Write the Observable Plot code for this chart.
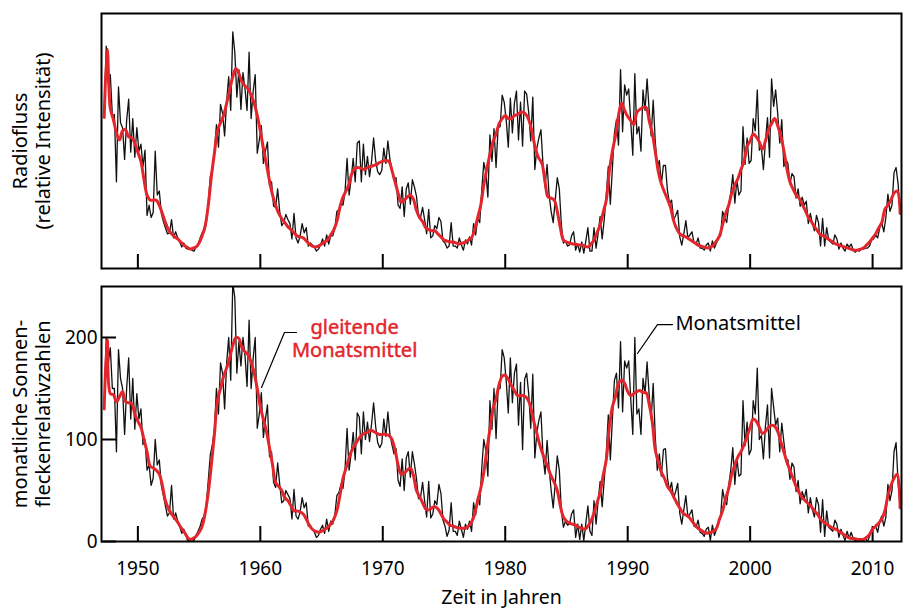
<!DOCTYPE html>
<html><head><meta charset="utf-8">
<script src="https://cdn.jsdelivr.net/npm/d3@7"></script>
<script src="https://cdn.jsdelivr.net/npm/@observablehq/plot@0.6"></script>
<style>
html,body{margin:0;padding:0;background:#fff;}
#chart{position:relative;width:906px;height:612px;font-family:"Noto Sans",sans-serif;}
#chart svg{position:absolute;left:0;display:block;}
</style></head><body><div id="chart"></div>
<script>
// time grid of the series
const monthlyStart = 1947.25, monthlyStep = 1 / 6;   // monthly means (sampled every 2 months)
const smoothStart = 1947.25, smoothStep = 0.25;      // running (smoothed) means

// Sunspot numbers, monthly means
const spotsMonthly = [
  130, 200, 175, 190, 150,            // 1947
  150, 88, 188, 160, 150, 105,        // 1948
  150, 180, 120, 160, 110, 145,       // 1949
  120, 130, 95, 100, 70, 75,          // 1950
  55, 62, 100, 75, 80, 55,            // 1951
  45, 35, 25, 28, 55, 22,             // 1952
  28, 20, 15, 8, 12, 6,               // 1953
  0, 3, 2, 1, 6, 10,                  // 1954
  15, 22, 25, 35, 60, 85,             // 1955
  95, 110, 150, 125, 175, 165,        // 1956
  130, 175, 200, 158, 254, 239,       // 1957
  165, 196, 172, 200, 182, 152,       // 1958
  217, 150, 180, 200, 111, 125,       // 1959
  146, 102, 120, 134, 83, 88,         // 1960
  58, 53, 77, 56, 38, 40,             // 1961
  50, 46, 42, 22, 51, 25,             // 1962
  22, 29, 43, 33, 38, 15,             // 1963
  16, 12, 9, 4, 6, 12,                // 1964
  16, 8, 22, 10, 20, 17,              // 1965
  26, 45, 48, 56, 52, 70,             // 1966
  111, 70, 86, 107, 80, 126,          // 1967
  122, 86, 127, 100, 117, 98,         // 1968
  115, 136, 113, 97, 92, 96,          // 1969
  120, 103, 127, 105, 95, 86,         // 1970
  91, 60, 54, 81, 50, 82,             // 1971
  88, 63, 88, 76, 62, 42,             // 1972
  43, 58, 40, 24, 59, 23,             // 1973
  27, 40, 36, 56, 47, 21,             // 1974
  15, 5, 11, 38, 10, 10,              // 1975
  6, 20, 12, 4, 17, 12,               // 1976
  20, 10, 38, 26, 44, 36,             // 1977
  72, 100, 89, 64, 138, 110,          // 1978
  150, 101, 149, 150, 188, 180,       // 1979
  157, 126, 180, 136, 165, 174,       // 1980
  114, 156, 90, 159, 165, 145,        // 1981
  111, 164, 82, 107, 119, 127,        // 1982
  84, 66, 99, 72, 50, 33,             // 1983
  57, 84, 70, 30, 14, 20,             // 1984
  16, 17, 27, 31, 4, 17,              // 1985
  2, 17, 1, 18, 35, 10,               // 1986
  6, 40, 17, 39, 59, 34,              // 1987
  60, 86, 124, 80, 120, 158,          // 1988
  165, 131, 196, 127, 177, 170,       // 1989
  177, 140, 105, 200, 125, 130,       // 1990
  105, 160, 145, 176, 144, 120,       // 1991
  155, 103, 70, 86, 64, 90,           // 1992
  91, 62, 50, 58, 42, 49,             // 1993
  57, 28, 17, 31, 45, 24,             // 1994
  27, 31, 15, 14, 21, 9,              // 1995
  8, 5, 12, 14, 1, 16,                // 1996
  6, 12, 18, 24, 51, 40,              // 1997
  36, 55, 70, 92, 56, 82,             // 1998
  64, 66, 138, 94, 117, 85,           // 1999
  90, 138, 125, 170, 100, 104,        // 2000
  81, 113, 134, 82, 150, 132,         // 2001
  114, 121, 88, 116, 98, 81,          // 2002
  80, 61, 77, 73, 49, 60,             // 2003
  37, 49, 42, 51, 28, 43,             // 2004
  31, 24, 43, 36, 9, 41,              // 2005
  5, 30, 14, 12, 10, 21,              // 2006
  17, 4, 12, 6, 1, 10,                // 2007
  3, 9, 3, 0.5, 3, 1,                 // 2008
  1.5, 1, 3, 0, 5, 11,                // 2009
  13, 15, 9, 20, 25, 15,              // 2010
  24, 56, 40, 50, 88, 97,             // 2011
  58, 33                              // 2012
];

// Sunspot numbers, running mean
const spotsSmoothed = [
  130, 198, 145,        // 1947
  144, 137, 142, 147,   // 1948
  137, 136, 135, 125,   // 1949
  118, 112, 100, 88,    // 1950
  74, 72, 70, 66,       // 1951
  55, 40, 32, 27,       // 1952
  23, 19, 14, 10,       // 1953
  5, 2, 3, 5,           // 1954
  9, 15, 28, 48,        // 1955
  75, 105, 138, 150,    // 1956
  162, 170, 180, 192,   // 1957
  200, 199, 190, 186,   // 1958
  183, 176, 165, 150,   // 1959
  132, 120, 108, 92,    // 1960
  75, 58, 54, 50,       // 1961
  43, 40, 35, 30,       // 1962
  30, 29, 27, 22,       // 1963
  16, 12, 10, 9,        // 1964
  10, 12, 14, 17,       // 1965
  22, 30, 45, 62,       // 1966
  72, 82, 90, 95,       // 1967
  100, 104, 106, 107,   // 1968
  109, 108, 106, 105,   // 1969
  105, 105, 104, 100,   // 1970
  90, 75, 66, 67,       // 1971
  70, 72, 65, 50,       // 1972
  44, 38, 32, 31,       // 1973
  33, 34, 32, 27,       // 1974
  22, 19, 16, 15,       // 1975
  14, 13, 13, 13,       // 1976
  15, 19, 27, 40,       // 1977
  52, 68, 90, 110,      // 1978
  130, 140, 154, 162,   // 1979
  163, 159, 153, 148,   // 1980
  143, 143, 143, 141,   // 1981
  135, 122, 110, 98,    // 1982
  88, 80, 72, 64,       // 1983
  58, 50, 35, 24,       // 1984
  20, 18, 17, 16,       // 1985
  14, 13, 12, 15,       // 1986
  20, 28, 38, 48,       // 1987
  65, 80, 112, 132,     // 1988
  142, 155, 158, 155,   // 1989
  147, 143, 145, 147,   // 1990
  148, 146, 146, 135,   // 1991
  118, 90, 78, 68,      // 1992
  62, 54, 50, 44,       // 1993
  38, 33, 28, 26,       // 1994
  24, 20, 16, 13,       // 1995
  11, 9, 8, 9,          // 1996
  10, 13, 22, 30,       // 1997
  42, 52, 66, 75,       // 1998
  83, 88, 95, 103,      // 1999
  112, 120, 118, 112,   // 2000
  106, 108, 112, 114,   // 2001
  113, 108, 98, 88,     // 2002
  78, 70, 62, 54,       // 2003
  48, 43, 40, 37,       // 2004
  34, 30, 27, 22,       // 2005
  19, 17, 15, 13,       // 2006
  12, 10, 8, 6,         // 2007
  4, 3, 3, 2,           // 2008
  2, 2, 4, 7,           // 2009
  12, 15, 18, 22,       // 2010
  30, 45, 55, 62,       // 2011
  66, 33                // 2012
];

// Radio flux (relative intensity), monthly means
const fluxMonthly = [
  198, 268, 232, 240, 200,            // 1947
  201, 135, 228, 193, 188, 157,       // 1948
  195, 216, 164, 197, 159, 188,       // 1949
  165, 172, 150, 166, 102, 112,       // 1950
  100, 105, 165, 122, 126, 104,       // 1951
  96, 90, 84, 85, 98, 80,             // 1952
  86, 80, 76, 71, 75, 70,             // 1953
  69, 70, 68, 67, 71, 73,             // 1954
  80, 85, 86, 94, 115, 140,           // 1955
  148, 165, 191, 169, 211, 202,       // 1956
  180, 214, 238, 205, 282, 262,       // 1957
  218, 245, 206, 242, 226, 205,       // 1958
  262, 197, 224, 240, 163, 176,       // 1959
  190, 153, 165, 174, 131, 135,       // 1960
  111, 110, 128, 106, 92, 95,         // 1961
  103, 98, 94, 79, 104, 80,           // 1962
  75, 82, 94, 85, 90, 72,             // 1963
  75, 73, 71, 67, 69, 73,             // 1964
  79, 72, 83, 74, 82, 82,             // 1965
  89, 106, 108, 115, 112, 125,        // 1966
  158, 122, 138, 158, 135, 173,       // 1967
  175, 135, 172, 142, 160, 140,       // 1968
  155, 178, 156, 145, 142, 146,       // 1969
  168, 153, 175, 157, 147, 137,       // 1970
  139, 112, 109, 130, 101, 128,       // 1971
  134, 113, 137, 130, 121, 102,       // 1972
  100, 110, 98, 84, 108, 80,          // 1973
  82, 92, 89, 100, 96, 77,            // 1974
  75, 70, 72, 95, 72, 72,             // 1975
  70, 80, 73, 68, 78, 74,             // 1976
  81, 73, 94, 83, 99, 95,             // 1977
  127, 154, 144, 120, 181, 155,       // 1978
  187, 149, 188, 189, 220, 213,       // 1979
  195, 169, 217, 183, 212, 224,       // 1980
  176, 213, 170, 224, 221, 203,       // 1981
  175, 218, 147, 168, 178, 186,       // 1982
  152, 130, 152, 122, 106, 95,        // 1983
  117, 139, 128, 93, 75, 77,          // 1984
  72, 73, 82, 86, 68, 74,             // 1985
  66, 76, 65, 77, 90, 67,             // 1986
  67, 90, 70, 84, 101, 79,            // 1987
  98, 122, 150, 113, 148, 183,        // 1988
  196, 171, 245, 184, 230, 220,       // 1989
  226, 194, 161, 241, 182, 189,       // 1990
  165, 225, 205, 236, 206, 180,       // 1991
  215, 175, 149, 156, 133, 151,       // 1992
  151, 126, 114, 117, 98, 102,        // 1993
  107, 81, 73, 84, 97, 80,            // 1994
  83, 86, 75, 74, 80, 70,             // 1995
  70, 68, 73, 75, 67, 77,             // 1996
  70, 75, 80, 82, 106, 100,           // 1997
  95, 112, 124, 142, 114, 137,        // 1998
  122, 126, 189, 152, 178, 153,       // 1999
  156, 197, 185, 225, 166, 169,       // 2000
  147, 175, 198, 159, 236, 209,       // 2001
  225, 202, 173, 196, 150, 157,       // 2002
  153, 133, 143, 140, 119, 128,       // 2003
  111, 120, 112, 116, 94, 104,        // 2004
  94, 87, 102, 95, 72, 99,            // 2005
  72, 90, 78, 76, 74, 83,             // 2006
  79, 69, 75, 70, 67, 74,             // 2007
  71, 74, 68, 66, 68, 67,             // 2008
  69, 69, 70, 70, 72, 78,             // 2009
  79, 83, 80, 90, 95, 86,             // 2010
  100, 123, 106, 112, 144, 149,       // 2011
  133, 104                            // 2012
];

// Radio flux, running mean
const fluxSmoothed = [
  198, 265, 207,        // 1947
  196, 183, 176, 185,   // 1948
  186, 179, 178, 173,   // 1949
  164, 155, 137, 122,   // 1950
  117, 117, 117, 112,   // 1951
  104, 95, 88, 84,      // 1952
  81, 79, 76, 73,       // 1953
  71, 69, 70, 71,       // 1954
  75, 82, 92, 112,      // 1955
  140, 163, 185, 193,   // 1956
  200, 212, 225, 238,   // 1957
  246, 241, 233, 229,   // 1958
  226, 220, 212, 200,   // 1959
  185, 168, 152, 136,   // 1960
  122, 112, 104, 99,    // 1961
  95, 91, 88, 85,       // 1962
  82, 81, 80, 77,       // 1963
  74, 72, 71, 72,       // 1964
  74, 76, 78, 83,       // 1965
  88, 96, 110, 120,     // 1966
  126, 133, 144, 148,   // 1967
  149, 148, 147, 149,   // 1968
  150, 151, 152, 154,   // 1969
  155, 156, 155, 146,   // 1970
  135, 124, 115, 117,   // 1971
  120, 122, 118, 107,   // 1972
  100, 96, 90, 88,      // 1973
  87, 87, 84, 81,       // 1974
  78, 77, 76, 76,       // 1975
  75, 74, 75, 76,       // 1976
  78, 80, 88, 100,      // 1977
  112, 132, 148, 162,   // 1978
  174, 182, 192, 197,   // 1979
  200, 197, 197, 200,   // 1980
  201, 203, 203, 200,   // 1981
  193, 180, 166, 158,   // 1982
  153, 135, 120, 119,   // 1983
  117, 106, 90, 78,     // 1984
  76, 75, 74, 74,       // 1985
  73, 73, 72, 71,       // 1986
  74, 78, 85, 93,       // 1987
  105, 117, 145, 165,   // 1988
  180, 200, 212, 205,   // 1989
  199, 195, 191, 203,   // 1990
  206, 208, 208, 195,   // 1991
  183, 165, 145, 133,   // 1992
  125, 118, 110, 97,    // 1993
  89, 84, 82, 81,       // 1994
  79, 77, 75, 73,       // 1995
  72, 71, 70, 71,       // 1996
  73, 77, 82, 93,       // 1997
  104, 112, 124, 132,   // 1998
  138, 147, 155, 170,   // 1999
  175, 182, 179, 174,   // 2000
  167, 175, 186, 192,   // 2001
  197, 190, 180, 166,   // 2002
  148, 135, 128, 122,   // 2003
  119, 113, 107, 100,   // 2004
  96, 91, 87, 83,       // 2005
  82, 80, 78, 76,       // 2006
  74, 73, 72, 71,       // 2007
  70, 69, 68, 68,       // 2008
  69, 70, 73, 76,       // 2009
  80, 84, 90, 95,       // 2010
  108, 112, 117, 124,   // 2011
  126, 104              // 2012
];

const yearTicks = [1950, 1960, 1970, 1980, 1990, 2000, 2010];
const spotTicks = [0, 100, 200];

const labelTop = "Radiofluss\n(relative Intensität)";
const labelBottom = "monatliche Sonnen-\nfleckenrelativzahlen";
const labelX = "Zeit in Jahren";
const labelSmooth1 = "gleitende";
const labelSmooth2 = "Monatsmittel";
const labelMonthly = "Monatsmittel";

// build tables
const series = (vals, start, step) => vals.map((v, i) => ({t: start + i * step, v}));
const spotsM = series(spotsMonthly, monthlyStart, monthlyStep);
const spotsS = series(spotsSmoothed, smoothStart, smoothStep);
const fluxM = series(fluxMonthly, monthlyStart, monthlyStep);
const fluxS = series(fluxSmoothed, smoothStart, smoothStep);

const RED = "#e3262c";
const FONT = "'Noto Sans', sans-serif";
const xDomain = [1947.03, 2012.36];

const topPlot = Plot.plot({
  width: 906, height: 272,
  marginLeft: 101, marginRight: 5, marginTop: 13, marginBottom: 4,
  style: {fontFamily: FONT, fontSize: "19px", background: "white", color: "black"},
  x: {domain: xDomain, axis: null},
  y: {domain: [50, 300], axis: null},
  marks: [
    Plot.tickX(yearTicks, {x: d => d, stroke: "black", strokeWidth: 2, insetTop: 241}),
    Plot.line(fluxM, {x: "t", y: "v", stroke: "#111", strokeWidth: 1.3, clip: true}),
    Plot.line(fluxS, {x: "t", y: "v", stroke: RED, strokeWidth: 3, curve: "catmull-rom", clip: true}),
    Plot.frame({stroke: "black", strokeWidth: 2}),
    Plot.text([labelTop], {text: d => d, frameAnchor: "left", textAnchor: "middle", lineAnchor: "middle", rotate: -90, dx: -70, fontSize: 20, lineHeight: 1.15})
  ]
});

const bottomPlot = Plot.plot({
  width: 906, height: 340,
  marginLeft: 101, marginRight: 5, marginTop: 14, marginBottom: 71,
  style: {fontFamily: FONT, fontSize: "19px", background: "white", color: "black"},
  x: {domain: xDomain},
  y: {domain: [0, 250]},
  marks: [
    Plot.axisX(yearTicks, {tickSize: 0, tickPadding: 20, tickFormat: d => String(d), label: null, fontSize: 19}),
    Plot.axisY(spotTicks, {tickSize: 0, tickPadding: 4, tickFormat: d => String(d), label: null, fontSize: 19}),
    Plot.tickX(yearTicks, {x: d => d, stroke: "black", strokeWidth: 2, insetTop: 240}),
    Plot.tickY(spotTicks, {y: d => d, stroke: "black", strokeWidth: 2, insetRight: 785}),
    Plot.line(spotsM, {x: "t", y: "v", stroke: "#111", strokeWidth: 1.3, clip: true}),
    Plot.line(spotsS, {x: "t", y: "v", stroke: RED, strokeWidth: 3, curve: "catmull-rom", clip: true}),
    Plot.frame({stroke: "black", strokeWidth: 2}),
    Plot.text([labelBottom], {text: d => d, frameAnchor: "left", textAnchor: "middle", lineAnchor: "middle", rotate: -90, dx: -70, fontSize: 20, lineHeight: 1.15}),
    Plot.text([labelX], {text: d => d, frameAnchor: "bottom", lineAnchor: "top", dy: 49, fontSize: 19.5}),
    // annotations
    Plot.line([[1962.95, 204.9], [1961.97, 204.9], [1960.1, 151]], {stroke: "black", strokeWidth: 1.2}),
    Plot.text([labelSmooth1], {text: d => d, x: 1967.7, y: 209.8, fill: RED, stroke: RED, strokeWidth: 0.45, fontSize: 20}),
    Plot.text([labelSmooth2], {text: d => d, x: 1967.7, y: 187.3, fill: RED, stroke: RED, strokeWidth: 0.45, fontSize: 20}),
    Plot.line([[1993.66, 212.7], [1992.43, 212.7], [1990.8, 184.3]], {stroke: "black", strokeWidth: 1.2}),
    Plot.text([labelMonthly], {text: d => d, x: 1993.9, y: 213.7, textAnchor: "start", fill: "black", fontSize: 20})
  ]
});

const chart = document.getElementById("chart");
topPlot.style.top = "0px";
bottomPlot.style.top = "272px";
chart.append(topPlot, bottomPlot);
</script>
</body></html>
